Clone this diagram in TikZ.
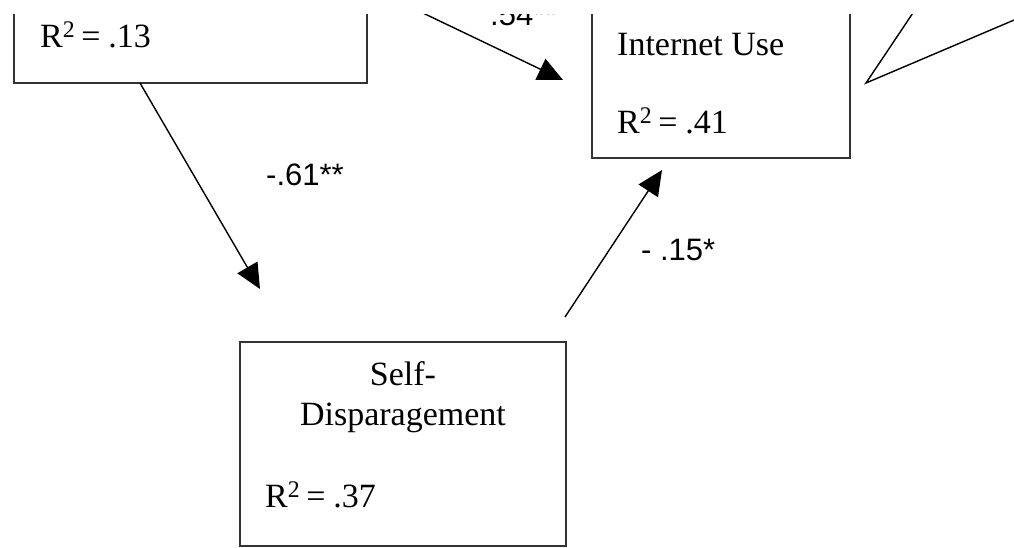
\documentclass[tikz,border=0pt]{standalone}
\usepackage{fontspec}
\setmainfont{Liberation Serif}
\newfontfamily\labelfont{Liberation Sans}
\usetikzlibrary{arrows.meta}

\newcommand{\rsq}[1]{R\textsuperscript{2}\kern6pt=\kern8pt#1}

\tikzset{
  varbox/.style={draw=black!80, line width=2pt, fill=none, inner sep=0pt},
  vartext/.style={inner sep=0pt, font=\fontsize{34}{40}\selectfont},
  coef/.style={inner sep=0pt, font=\labelfont\fontsize{31}{36}\selectfont},
  path/.style={line width=1.4pt, black},
  arr/.style={path, -{Triangle[length=25pt, width=23pt]}}
}

\begin{document}
\begin{tikzpicture}[x=1pt, y=-1pt]
\useasboundingbox[fill=white] (0,0) rectangle (1014,547);
\begin{scope}
\clip (0,14) rectangle (1014,547);

% variable boxes
\node[varbox, minimum width=353pt, minimum height=163pt] (loneliness) at (190.5,1.5) {};
\node[varbox, minimum width=258pt, minimum height=238pt] (internet) at (721,39) {};
\node[varbox, minimum width=326pt, minimum height=204pt] (selfdisp) at (403,444) {};

% box contents
\node[vartext, anchor=base west] (r13) at (40,47) {\rsq{.13}};
\node[vartext, anchor=base west] (iuse) at (617,55) {Internet Use};
\node[vartext, anchor=base west] (r41) at (617,133) {\rsq{.41}};
\node[vartext, anchor=base] (self) at (403,385) {Self-};
\node[vartext, anchor=base] (disp) at (403,425) {Disparagement};
\node[vartext, anchor=base west] (r37) at (265,507) {\rsq{.37}};

% connector end points
\coordinate (a1) at (140,83);
\coordinate (t1) at (260,289);
\coordinate (s2) at (565,317);
\coordinate (t2) at (662,170);
\coordinate (s3) at (356,-19);
\coordinate (t3) at (563,80);
\coordinate (m4) at (866,83);
\coordinate (e4a) at (935,-20);
\coordinate (e4b) at (1040,9);

% paths
\draw[arr] (a1) -- (t1);
\draw[arr] (s2) -- (t2);
\draw[arr] (s3) -- (t3);
\draw[path] (e4a) -- (m4) -- (e4b);

% path coefficients
\node[coef, anchor=base west] (c61) at (266,185) {-.61**};
\node[coef, anchor=base west] (c15) at (641,260) {- .15*};
\node[coef, anchor=base west] (c54) at (490,25) {.54**};
\end{scope}
\end{tikzpicture}
\end{document}
